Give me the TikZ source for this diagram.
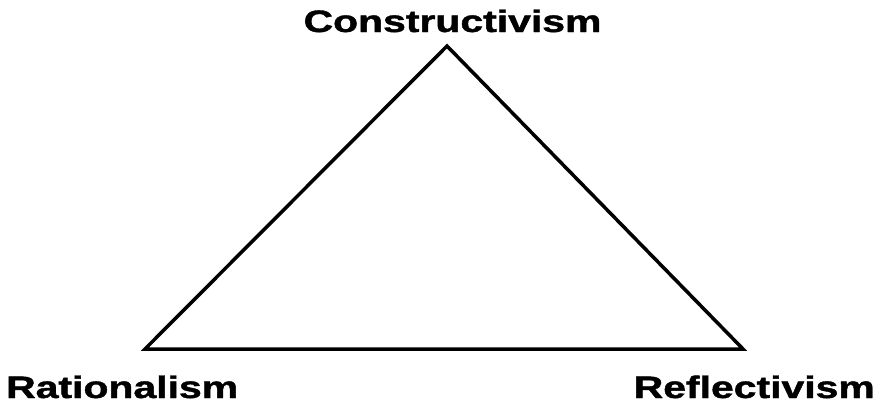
\documentclass[tikz,border=0pt]{standalone}
\usepackage{fontspec}
\setmainfont{Liberation Sans}
\newfontfamily\heavy[FakeBold=1.2]{Liberation Sans Bold}
\tikzset{
  lbl/.style={inner sep=0pt, font=\fontsize{31}{34}\selectfont\heavy},
  edge/.style={line width=3.5pt, line join=miter}
}
\newcommand{\wide}[1]{\scalebox{1.32}[1]{#1}}
\begin{document}
\begin{tikzpicture}[x=1pt,y=-1pt]
\useasboundingbox (0,0) rectangle (880,405);
\coordinate (top) at (447,46);
\coordinate (left) at (145,349);
\coordinate (right) at (743,349);
\draw[edge] (top) -- (left) -- (right) -- cycle;
\node[lbl, anchor=base] (c) at (452.5,32) {\wide{Constructivism}};
\node[lbl, anchor=base west] (r) at (6,398) {\wide{Rationalism}};
\node[lbl, anchor=base east] (f) at (875,398) {\wide{Reflectivism}};
\end{tikzpicture}
\end{document}
